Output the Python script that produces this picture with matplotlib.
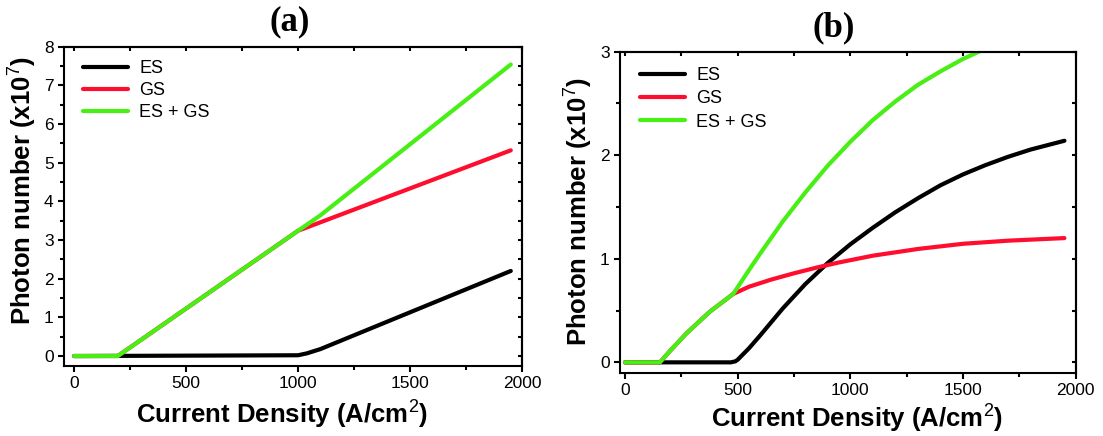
import matplotlib
matplotlib.use("Agg")
import matplotlib.pyplot as plt
from matplotlib.ticker import MultipleLocator, NullFormatter

plt.rcParams['font.family'] = ['Liberation Sans', 'DejaVu Sans']
plt.rcParams['mathtext.fontset'] = 'custom'
plt.rcParams['mathtext.rm'] = 'Liberation Sans'
plt.rcParams['mathtext.it'] = 'Liberation Sans:italic'
plt.rcParams['mathtext.bf'] = 'Liberation Sans:bold'

# ---- panel (a): photon number vs current density ----
a_es_x = [0, 1000, 1040, 1100, 1950]
a_es_y = [0, 0.02, 0.07, 0.18, 2.20]
a_gs_x = [0, 195, 1000, 1950]
a_gs_y = [0, 0, 3.24, 5.32]
a_tot_x = [0, 195, 1000, 1040, 1100, 1950]
a_tot_y = [0, 0, 3.24, 3.40, 3.64, 7.54]

# ---- panel (b) ----
b_es_x = [0, 470, 490, 500, 550, 600, 650, 700, 800, 900, 1000, 1100, 1200,
          1300, 1400, 1500, 1600, 1700, 1800, 1950]
b_es_y = [0, 0, 0.01, 0.025, 0.135, 0.26, 0.39, 0.52, 0.755, 0.96, 1.14, 1.30,
          1.45, 1.585, 1.71, 1.815, 1.905, 1.985, 2.055, 2.14]
b_gs_x = [0, 155, 200, 273, 377, 480, 550, 650, 750, 850, 950, 1100, 1300,
          1500, 1700, 1950]
b_gs_y = [0, 0, 0.11, 0.28, 0.49, 0.66, 0.73, 0.80, 0.86, 0.915, 0.965, 1.03,
          1.095, 1.145, 1.175, 1.20]
b_tot_x = [0, 155, 200, 273, 377, 480, 550, 600, 700, 800, 900, 1000, 1100,
           1200, 1300, 1400, 1500, 1600, 1700, 1800, 1950]
b_tot_y = [0, 0, 0.11, 0.28, 0.49, 0.66, 0.89, 1.05, 1.36, 1.64, 1.90, 2.13,
           2.34, 2.52, 2.68, 2.81, 2.93, 3.03, 3.12, 3.20, 3.30]

series_labels = ["ES", "GS", "ES + GS"]
colors = ["#000000", "#ff0d2e", "#47ef14"]

W, H = 1103, 436
fig = plt.figure(figsize=(W / 100, H / 100), dpi=100)


def px_axes(l, t, r, b):
    return fig.add_axes([l / W, 1 - b / H, (r - l) / W, (b - t) / H])


def style_axes(ax, xlim, ylim, ymaj, ymin_step):
    ax.set_xlim(*xlim)
    ax.set_ylim(*ylim)
    ax.xaxis.set_major_locator(MultipleLocator(500))
    ax.xaxis.set_minor_locator(MultipleLocator(250))
    ax.yaxis.set_major_locator(MultipleLocator(ymaj))
    ax.yaxis.set_minor_locator(MultipleLocator(ymin_step))
    for s in ax.spines.values():
        s.set_linewidth(1.5)
    ax.tick_params(which='major', direction='out', length=4.5, width=1.5,
                   labelsize=12.5, pad=3)
    ax.tick_params(which='minor', direction='out', length=3, width=1.5)
    ax.tick_params(top=False, right=False)
    # inward ticks on the top and right frame
    top = ax.secondary_xaxis('top')
    top.xaxis.set_major_locator(MultipleLocator(250))
    top.xaxis.set_major_formatter(NullFormatter())
    top.tick_params(direction='in', length=3, width=1.5)
    top.spines['top'].set_linewidth(1.5)
    right = ax.secondary_yaxis('right')
    right.yaxis.set_major_locator(MultipleLocator(ymin_step))
    right.yaxis.set_major_formatter(NullFormatter())
    right.tick_params(direction='in', length=3, width=1.5)
    right.spines['right'].set_linewidth(1.5)


def draw(ax, xs, ys):
    for x, y, lab, c in zip(xs, ys, series_labels, colors):
        ax.plot(x, y, color=c, lw=3.0, label=lab, solid_capstyle='round',
                solid_joinstyle='round')


ax1 = px_axes(64, 46.7, 522, 365.7)
draw(ax1, [a_es_x, a_gs_x, a_tot_x], [a_es_y, a_gs_y, a_tot_y])
style_axes(ax1, (-45, 2000), (-0.25, 8), 1, 0.5)
ax1.legend(loc='upper left', bbox_to_anchor=(0.042, 0.958), frameon=False,
           fontsize=13, handlelength=2.5, handletextpad=0.6,
           labelspacing=0.27, borderpad=0, borderaxespad=0)

ax2 = px_axes(620, 51.7, 1075.7, 372.7)
draw(ax2, [b_es_x, b_gs_x, b_tot_x], [b_es_y, b_gs_y, b_tot_y])
style_axes(ax2, (-22, 2000), (-0.1, 3), 1, 0.5)
ax2.legend(loc='upper left', bbox_to_anchor=(0.044, 0.952), frameon=False,
           fontsize=13, handlelength=2.5, handletextpad=0.6,
           labelspacing=0.35, borderpad=0, borderaxespad=0)

xlabel = "Current Density (A/cm$^{2}$)"
ylabel = "Photon number (x10$^{7}$)"
lab_kw = dict(fontsize=18.5, fontweight='bold', ha='center', va='center')
fig.text(282 / W, 1 - 415 / H, xlabel, **lab_kw)
fig.text(857 / W, 1 - 419 / H, xlabel, **lab_kw)
fig.text(23 / W, 1 - 190 / H, ylabel, rotation=90, **lab_kw)
fig.text(579 / W, 1 - 211 / H, ylabel, rotation=90, **lab_kw)

title_kw = dict(fontsize=25, fontweight='bold', ha='center', va='center',
                family='Liberation Serif')
fig.text(290 / W, 1 - 22 / H, "(a)", **title_kw)
fig.text(834 / W, 1 - 28 / H, "(b)", **title_kw)

fig.savefig("out.png", dpi=100)
